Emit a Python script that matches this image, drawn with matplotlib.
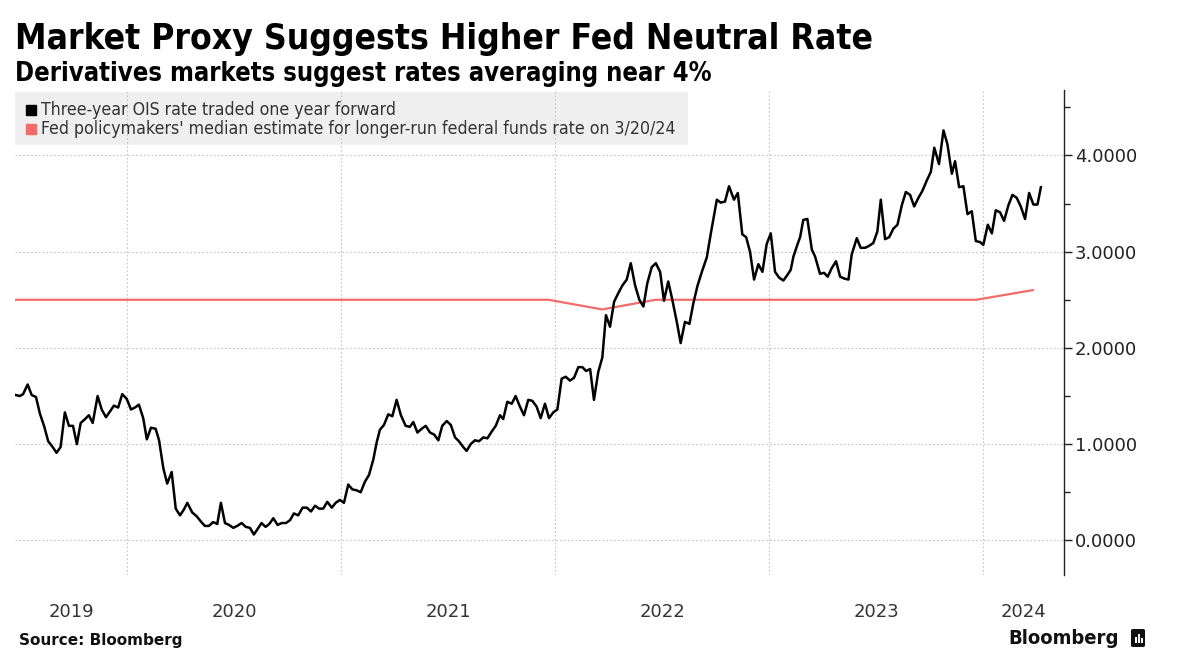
import matplotlib.pyplot as plt
from matplotlib.patches import Rectangle, FancyBboxPatch
from matplotlib.ticker import MultipleLocator, FuncFormatter
import matplotlib.transforms as mtransforms

# Three-year OIS rate traded one year forward (x = decimal year, roughly weekly)
ois_t = [2019.481, 2019.500, 2019.515, 2019.536, 2019.555, 2019.575, 2019.593, 2019.614,
         2019.632, 2019.653, 2019.671, 2019.690, 2019.710, 2019.729, 2019.748, 2019.766,
         2019.784, 2019.804, 2019.822, 2019.840, 2019.863, 2019.882, 2019.902, 2019.921,
         2019.939, 2019.959, 2019.978, 2019.999, 2020.019, 2020.037, 2020.056, 2020.076,
         2020.093, 2020.112, 2020.134, 2020.150, 2020.170, 2020.188, 2020.209, 2020.228,
         2020.248, 2020.266, 2020.282, 2020.305, 2020.326, 2020.344, 2020.364, 2020.383,
         2020.403, 2020.422, 2020.439, 2020.458, 2020.477, 2020.497, 2020.515, 2020.536,
         2020.555, 2020.575, 2020.593, 2020.611, 2020.629, 2020.648, 2020.665, 2020.684,
         2020.704, 2020.723, 2020.743, 2020.762, 2020.780, 2020.800, 2020.821, 2020.840,
         2020.860, 2020.879, 2020.897, 2020.917, 2020.936, 2020.957, 2020.975, 2020.995,
         2021.014, 2021.034, 2021.053, 2021.073, 2021.092, 2021.112, 2021.131, 2021.151,
         2021.167, 2021.182, 2021.201, 2021.221, 2021.240, 2021.260, 2021.280, 2021.302,
         2021.322, 2021.338, 2021.357, 2021.377, 2021.396, 2021.416, 2021.435, 2021.455,
         2021.473, 2021.494, 2021.513, 2021.533, 2021.551, 2021.571, 2021.587, 2021.606,
         2021.626, 2021.645, 2021.665, 2021.684, 2021.704, 2021.723, 2021.743, 2021.758,
         2021.777, 2021.798, 2021.816, 2021.836, 2021.855, 2021.875, 2021.894, 2021.914,
         2021.933, 2021.953, 2021.972, 2021.992, 2022.011, 2022.031, 2022.050, 2022.070,
         2022.089, 2022.109, 2022.128, 2022.145, 2022.164, 2022.182, 2022.202, 2022.221,
         2022.238, 2022.257, 2022.276, 2022.296, 2022.315, 2022.335, 2022.354, 2022.374,
         2022.394, 2022.413, 2022.431, 2022.452, 2022.471, 2022.491, 2022.509, 2022.529,
         2022.548, 2022.569, 2022.587, 2022.607, 2022.628, 2022.646, 2022.665, 2022.686,
         2022.709, 2022.728, 2022.756, 2022.774, 2022.794, 2022.813, 2022.836, 2022.854,
         2022.875, 2022.893, 2022.911, 2022.930, 2022.950, 2022.969, 2022.989, 2023.008,
         2023.028, 2023.047, 2023.067, 2023.083, 2023.101, 2023.114, 2023.132, 2023.145,
         2023.160, 2023.179, 2023.200, 2023.215, 2023.238, 2023.257, 2023.274, 2023.293,
         2023.313, 2023.332, 2023.352, 2023.371, 2023.386, 2023.410, 2023.428, 2023.449,
         2023.467, 2023.487, 2023.506, 2023.522, 2023.542, 2023.561, 2023.581, 2023.600,
         2023.620, 2023.639, 2023.659, 2023.678, 2023.698, 2023.716, 2023.737, 2023.756,
         2023.772, 2023.794, 2023.815, 2023.833, 2023.854, 2023.869, 2023.888, 2023.908,
         2023.927, 2023.947, 2023.966, 2023.986, 2024.001, 2024.022, 2024.041, 2024.059,
         2024.079, 2024.098, 2024.118, 2024.137, 2024.157, 2024.176, 2024.196, 2024.215,
         2024.235, 2024.254, 2024.270]
ois_v = [1.51, 1.50, 1.52, 1.62, 1.51, 1.49, 1.32, 1.18,
         1.03, 0.97, 0.91, 0.97, 1.33, 1.19, 1.19, 1.00,
         1.22, 1.26, 1.30, 1.22, 1.50, 1.36, 1.28, 1.34,
         1.40, 1.38, 1.52, 1.47, 1.36, 1.38, 1.41, 1.27,
         1.05, 1.17, 1.16, 1.04, 0.75, 0.59, 0.71, 0.33,
         0.26, 0.32, 0.39, 0.29, 0.25, 0.20, 0.15, 0.15,
         0.19, 0.17, 0.39, 0.18, 0.16, 0.13, 0.15, 0.18,
         0.14, 0.13, 0.06, 0.12, 0.18, 0.14, 0.17, 0.23,
         0.16, 0.18, 0.18, 0.21, 0.28, 0.26, 0.34, 0.34,
         0.30, 0.36, 0.33, 0.33, 0.40, 0.34, 0.39, 0.42,
         0.39, 0.58, 0.53, 0.52, 0.50, 0.61, 0.68, 0.84,
         1.02, 1.15, 1.20, 1.31, 1.29, 1.46, 1.30, 1.19,
         1.18, 1.23, 1.12, 1.16, 1.19, 1.12, 1.10, 1.04,
         1.19, 1.24, 1.20, 1.07, 1.03, 0.97, 0.93, 1.00,
         1.04, 1.03, 1.07, 1.06, 1.13, 1.19, 1.30, 1.26,
         1.44, 1.42, 1.50, 1.39, 1.30, 1.46, 1.45, 1.39,
         1.27, 1.42, 1.27, 1.33, 1.36, 1.68, 1.70, 1.66,
         1.69, 1.80, 1.80, 1.76, 1.78, 1.46, 1.75, 1.90,
         2.34, 2.22, 2.48, 2.57, 2.65, 2.71, 2.88, 2.65,
         2.50, 2.43, 2.67, 2.84, 2.88, 2.79, 2.49, 2.69,
         2.50, 2.27, 2.05, 2.27, 2.25, 2.46, 2.64, 2.79,
         2.94, 3.19, 3.54, 3.51, 3.52, 3.68, 3.54, 3.61,
         3.18, 3.15, 3.00, 2.71, 2.87, 2.79, 3.08, 3.19,
         2.79, 2.73, 2.70, 2.75, 2.81, 2.95, 3.07, 3.15,
         3.33, 3.34, 3.02, 2.95, 2.77, 2.78, 2.74, 2.83,
         2.90, 2.74, 2.72, 2.71, 2.97, 3.14, 3.04, 3.04,
         3.06, 3.09, 3.21, 3.54, 3.13, 3.15, 3.24, 3.28,
         3.48, 3.62, 3.59, 3.47, 3.56, 3.63, 3.74, 3.83,
         4.08, 3.91, 4.26, 4.12, 3.81, 3.94, 3.67, 3.68,
         3.39, 3.42, 3.11, 3.10, 3.07, 3.28, 3.19, 3.43,
         3.41, 3.32, 3.48, 3.59, 3.56, 3.47, 3.34, 3.61,
         3.49, 3.49, 3.67]

# Fed median longer-run estimate (FOMC projection dates)
fed_t = [2019.477, 2021.970, 2022.220, 2022.470, 2023.968, 2024.232]
fed_v = [2.5, 2.5, 2.4, 2.5, 2.5, 2.6]

years = [2019, 2020, 2021, 2022, 2023, 2024]
y_ticks = [0, 1, 2, 3, 4]
x_min, x_max = 2019.477, 2024.378
y_min, y_max = -0.36, 4.68

label_ois = "Three-year OIS rate traded one year forward"
label_fed = "Fed policymakers' median estimate for longer-run federal funds rate on 3/20/24"

W, H = 1177, 658
narrow = ['DejaVu Sans']
fig = plt.figure(figsize=(W / 100, H / 100), dpi=100)
ax = fig.add_axes([15 / W, 1 - 575 / H, (1064 - 15) / W, (575 - 90) / H])

ax.plot(fed_t, fed_v, color='#f46b6b', lw=1.6, zorder=3)
ax.plot(ois_t, ois_v, color='black', lw=1.8, zorder=4)

ax.set_xlim(x_min, x_max)
ax.set_ylim(y_min, y_max)

for s in ['left', 'top', 'bottom']:
    ax.spines[s].set_visible(False)
ax.spines['right'].set_color('#222222')
ax.spines['right'].set_linewidth(1.0)

ax.yaxis.tick_right()
ax.set_yticks(y_ticks)
ax.yaxis.set_minor_locator(MultipleLocator(0.5))
ax.yaxis.set_major_formatter(FuncFormatter(lambda v, p: f"{v:.4f}"))
ax.tick_params(axis='y', which='major', length=6, width=1, color='#222222',
               labelsize=13, labelcolor='#222222', pad=2)
ax.tick_params(axis='y', which='minor', length=4, width=1, color='#222222')
ax.set_xticks([])

# grid
ax.set_axisbelow(True)
for yv in y_ticks:
    ax.axhline(yv, color='#c4c4c4', lw=0.8, ls=(0, (1.5, 2)), zorder=0.5)
for yr in years[1:]:
    ax.axvline(yr, color='#c4c4c4', lw=0.8, ls=(0, (1.5, 2)), zorder=0.5)

# year labels centred in visible part of each year
trans = mtransforms.blended_transform_factory(ax.transData, fig.transFigure)
for yr in years:
    lo, hi = max(yr, x_min), min(yr + 1, x_max)
    ax.text((lo + hi) / 2, 1 - 612 / H, str(yr), transform=trans, ha='center', va='center',
            fontsize=13, color='#333333', clip_on=False)

# legend box
ax.add_patch(Rectangle((15 / W, 1 - 145 / H), (688 - 15) / W, 53 / H, transform=fig.transFigure,
                       facecolor='#efefef', edgecolor='none', zorder=0.3, clip_on=False))
ax.plot([31 / W], [1 - 110 / H], marker='s', ms=7.5, color='black', transform=fig.transFigure,
        clip_on=False, zorder=5)
ax.plot([31 / W], [1 - 129 / H], marker='s', ms=7.5, color='#f46b6b', transform=fig.transFigure,
        clip_on=False, zorder=5)
fig.text(41 / W, 1 - 110 / H, label_ois, fontsize=12.7, color='#333333', va='center',
         fontstretch='condensed')
fig.text(41 / W, 1 - 129 / H, label_fed, fontsize=12.7, color='#333333', va='center',
         fontstretch='condensed')

# titles
fig.text(15 / W, 1 - 49 / H, "Market Proxy Suggests Higher Fed Neutral Rate", family=narrow,
         fontweight='bold', fontsize=25.4, va='baseline', color='black', fontstretch='condensed')
fig.text(15 / W, 1 - 81 / H, "Derivatives markets suggest rates averaging near 4%", family=narrow,
         fontweight='bold', fontsize=18.4, va='baseline', color='black', fontstretch='condensed')

# footer
fig.text(19 / W, 1 - 645 / H, "Source: Bloomberg", fontweight='bold', fontsize=11,
         va='baseline', color='#111111')
fig.text(1119 / W, 1 - 644 / H, "Bloomberg", family=narrow, fontweight='bold', fontsize=14.5,
         va='baseline', ha='right', color='#111111', fontstretch='condensed')
fig.patches.append(FancyBboxPatch((1131 / W, 1 - 647 / H), 14 / W, 18 / H,
                                  boxstyle='round,pad=0,rounding_size=0.002',
                                  transform=fig.transFigure, facecolor='#111111',
                                  edgecolor='none'))
for bx, bh in [(1135, 6), (1138, 9), (1141, 5)]:
    fig.patches.append(Rectangle((bx / W, 1 - 643 / H), 1.6 / W, bh / H,
                                 transform=fig.transFigure, facecolor='white',
                                 edgecolor='none'))

fig.savefig('out.png', dpi=100)
